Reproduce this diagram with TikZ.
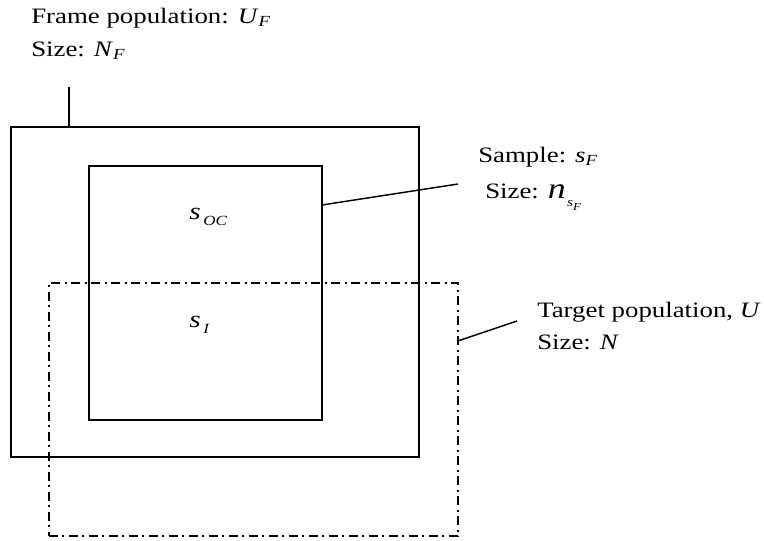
\documentclass[tikz,border=0pt]{standalone}
\usepackage{fontspec}
\setmainfont[FakeStretch=1.22]{Liberation Serif}
\usetikzlibrary{calc}
\begin{document}
\begin{tikzpicture}[x=0.75pt,y=-0.75pt,
  box/.style={draw, line width=1.5pt, inner sep=0pt, outer sep=0pt},
  dashdotbox/.style={box, line width=1.4pt, dash pattern=on 6.75pt off 3pt on 1.5pt off 3.75pt},
  conn/.style={line width=1.1pt},
  lbl/.style={inner sep=0pt, anchor=base west, font=\fontsize{16.5}{24}\selectfont},
  inlbl/.style={inner sep=0pt, anchor=base west}]
\useasboundingbox (0,0) rectangle (764,540);

% frame population, sample and target population
\node[box, minimum width=306pt, minimum height=247.5pt] (frame) at (215,292) {};
\node[box, minimum width=174.75pt, minimum height=190.5pt] (sample) at (205.5,293) {};
\node[dashdotbox, minimum width=306.75pt, minimum height=189.75pt] (target) at (253.5,409.5) {};

% labels inside the sample
\node[inlbl] (soc) at (189,219) {{\fontsize{18}{18}\selectfont\textit{s}}\hspace{2pt}\raisebox{-5pt}{\fontsize{10.5}{10.5}\selectfont\textit{OC}}};
\node[inlbl] (si) at (189,327) {{\fontsize{18}{18}\selectfont\textit{s}}\hspace{2pt}\raisebox{-5pt}{\fontsize{10.5}{10.5}\selectfont\textit{I}}};

% captions
\node[lbl] (frameA) at (31,23) {Frame population: \textit{U}\textsubscript{\textit{F}}};
\node[lbl] (frameB) at (31,56) {Size: \textit{N}\textsubscript{\textit{F}}};
\node[lbl] (sampA) at (478,162) {Sample: \textit{s}\textsubscript{\textit{F}}};
\node[lbl] (sampB) at (485,198) {Size: {\fontsize{22}{22}\selectfont\textit{n}}\hspace{1pt}\raisebox{-6.5pt}{\fontsize{9.5}{9.5}\selectfont\textit{s}}\raisebox{-9.5pt}{\fontsize{8}{8}\selectfont\textit{F}}};
\node[lbl] (targA) at (537,317) {Target population, \textit{U}};
\node[lbl] (targB) at (537,349) {Size: \textit{N}};

% leader lines
\coordinate (frametick) at (69,87);
\coordinate (sampend) at (458,184);
\coordinate (targend) at (517,321);
\draw[conn] (frametick |- frame.north) -- (frametick);
\draw[conn] ($(sample.north east)!0.1535!(sample.south east)$) -- (sampend);
\draw[conn] ($(target.north east)!0.229!(target.south east)$) -- (targend);
\end{tikzpicture}
\end{document}
